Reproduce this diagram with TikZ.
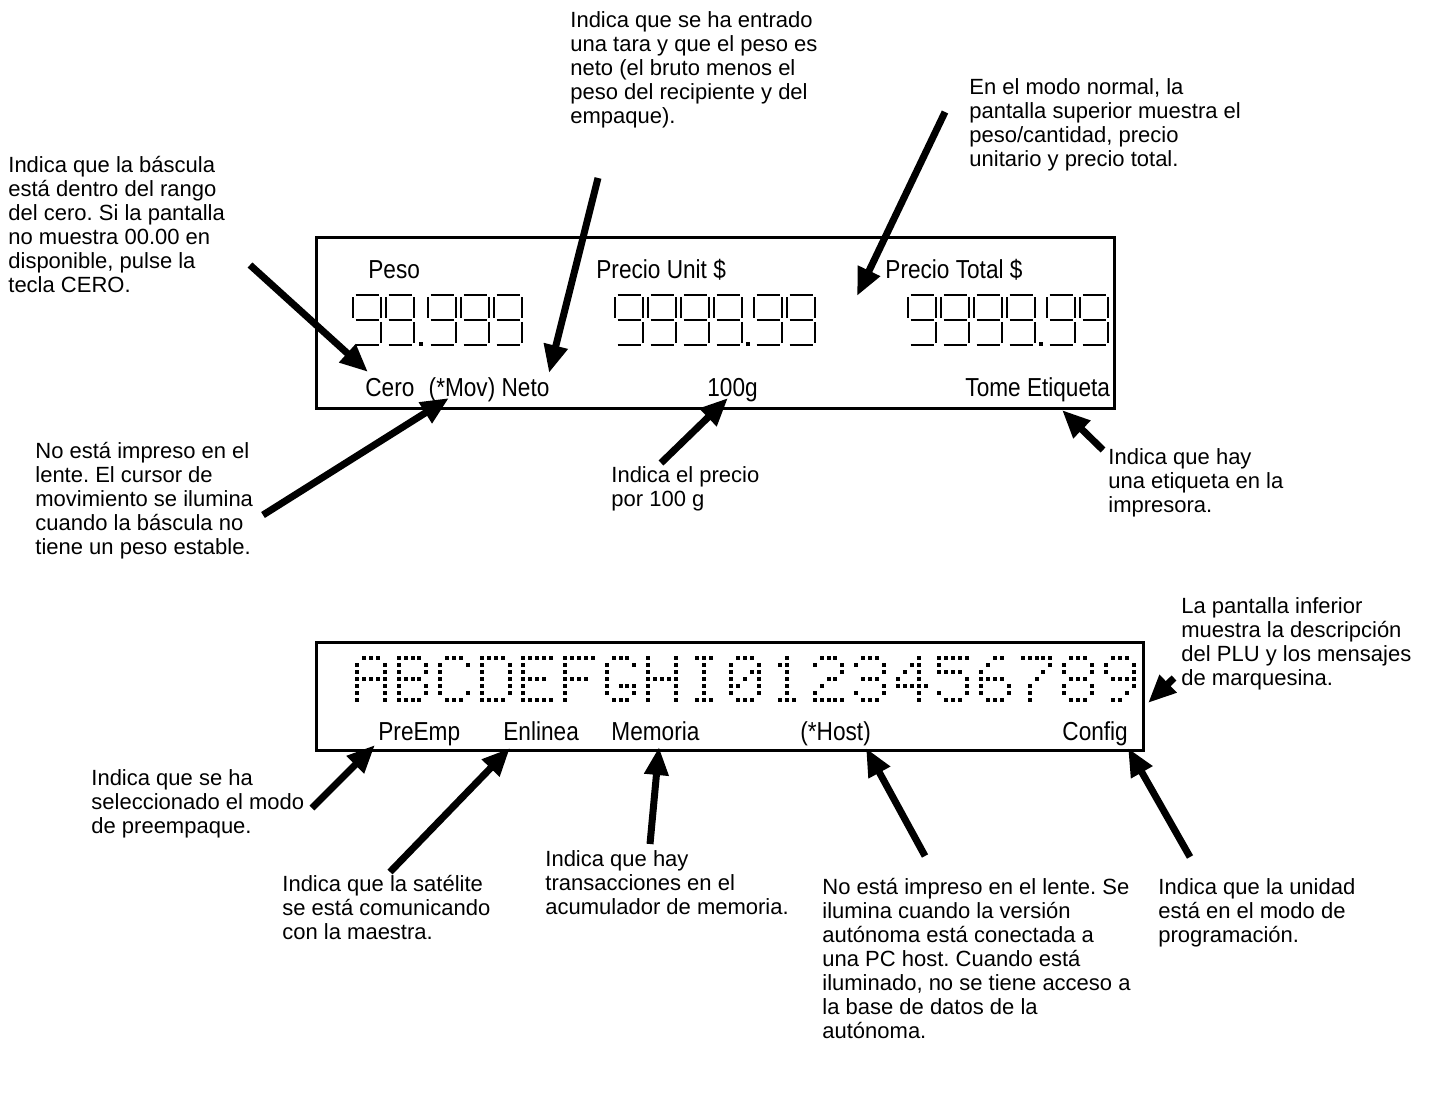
\documentclass[tikz,border=0pt]{standalone}
\usepackage{fontspec}
\setmainfont{Liberation Sans}
\newfontfamily\dispfamily{Liberation Sans}[FakeStretch=0.87]
\usetikzlibrary{arrows.meta}
\frenchspacing

\tikzset{
  note/.style={anchor=north west, inner sep=0pt, align=left, font=\frenchspacing\fontsize{11}{12}\selectfont},
  lbl/.style={anchor=base west, inner sep=0pt, font=\dispfamily\fontsize{13}{14}\selectfont},
  panel/.style={draw, line width=1.5pt},
  pointer/.style={line width=3.5pt, -{Triangle[length=14pt,width=11.5pt]}},
  seg/.style={line width=1.2pt},
}

% seven-segment "9" with top-left corner (#1,#2), width 28, height 50
\newcommand\ssnine[2]{%
  \draw[seg] (#1+2.5,#2) -- (#1+25.5,#2);
  \draw[seg] (#1+28,#2+2.5) -- (#1+28,#2+23);
  \draw[seg] (#1+28,#2+27) -- (#1+28,#2+47.5);
  \draw[seg] (#1+2.5,#2+50) -- (#1+25.5,#2+50);
  \draw[seg] (#1,#2+2.5) -- (#1,#2+23);
  \draw[seg] (#1+2.5,#2+25) -- (#1+25.5,#2+25);
}
\newcommand\ssdot[2]{\fill (#1-2,#2+47) rectangle ++(4,4);}

% 5x7 dot-matrix glyph number #1, rows #2
\newcommand\dmglyph[2]{%
  \foreach \dmr [count=\dmi from 0] in {#2} {%
    \foreach \dmc in \dmr {%
      \fill ({357+#1*41.6+\dmc*6.95-2},{658+\dmi*7-2}) rectangle ++(4,4);
    }%
  }%
}

\begin{document}
\begin{tikzpicture}[x=0.5pt,y=-0.5pt]
\useasboundingbox (0,0) rectangle (1454,1101);
\fill[white] (0,0) rectangle (1454,1101);

% ---------- upper display ----------
\draw[panel] (316,238) rectangle (1114,408);
\node[lbl] (peso) at (368,279) {Peso};
\node[lbl] (punit) at (596,279) {Precio Unit \$};
\node[lbl] (ptotal) at (885,279) {Precio Total \$};
\node[lbl] (cero) at (365,396) {Cero\hspace{0.55em}(*Mov) Neto};
\node[lbl] (cien) at (707,396) {100g};
\node[lbl] (tome) at (965,396) {Tome Etiqueta};

% 99.999
\ssnine{353}{295}\ssnine{386}{295}\ssdot{421}{295}
\ssnine{428}{295}\ssnine{461}{295}\ssnine{494}{295}
% 9999.99
\ssnine{615}{295}\ssnine{648}{295}\ssnine{681}{295}\ssnine{714}{295}
\ssdot{748}{295}\ssnine{754}{295}\ssnine{787}{295}
% 9999.99
\ssnine{908}{295}\ssnine{941}{295}\ssnine{974}{295}\ssnine{1007}{295}
\ssdot{1041}{295}\ssnine{1047}{295}\ssnine{1080}{295}

% ---------- lower display ----------
\draw[panel] (316,642) rectangle (1143,750);
\dmglyph{0}{{1,2,3},{0,4},{0,4},{0,1,2,3,4},{0,4},{0,4},{0,4}}
\dmglyph{1}{{0,1,2,3},{0,4},{0,4},{0,1,2,3},{0,4},{0,4},{0,1,2,3}}
\dmglyph{2}{{1,2,3},{0,4},{0},{0},{0},{0,4},{1,2,3}}
\dmglyph{3}{{0,1,2,3},{0,4},{0,4},{0,4},{0,4},{0,4},{0,1,2,3}}
\dmglyph{4}{{0,1,2,3,4},{0},{0},{0,1,2,3},{0},{0},{0,1,2,3,4}}
\dmglyph{5}{{0,1,2,3,4},{0},{0},{0,1,2,3},{0},{0},{0}}
\dmglyph{6}{{1,2,3},{0,4},{0},{0},{0,2,3,4},{0,4},{1,2,3}}
\dmglyph{7}{{0,4},{0,4},{0,4},{0,1,2,3,4},{0,4},{0,4},{0,4}}
\dmglyph{8}{{1,2,3},{2},{2},{2},{2},{2},{1,2,3}}
\dmglyph{9}{{1,2,3},{0,4},{0,3,4},{0,2,4},{0,1,4},{0,4},{1,2,3}}
\dmglyph{10}{{2},{1,2},{2},{2},{2},{2},{1,2,3}}
\dmglyph{11}{{1,2,3},{0,4},{4},{2,3},{1},{0},{0,1,2,3,4}}
\dmglyph{12}{{1,2,3},{0,4},{4},{1,2,3},{4},{0,4},{1,2,3}}
\dmglyph{13}{{3},{2,3},{1,3},{0,3},{0,1,2,3,4},{3},{3}}
\dmglyph{14}{{0,1,2,3,4},{0},{0,1,2,3},{4},{4},{0,4},{1,2,3}}
\dmglyph{15}{{2,3},{1},{0},{0,1,2,3},{0,4},{0,4},{1,2,3}}
\dmglyph{16}{{0,1,2,3,4},{4},{3},{2},{1},{1},{1}}
\dmglyph{17}{{1,2,3},{0,4},{0,4},{1,2,3},{0,4},{0,4},{1,2,3}}
\dmglyph{18}{{1,2,3},{0,4},{0,4},{1,2,3,4},{4},{3},{1,2}}

\node[lbl] (preemp) at (378,740) {PreEmp};
\node[lbl] (enlinea) at (503,740) {Enlinea};
\node[lbl] (memoria) at (611,740) {Memoria};
\node[lbl] (host) at (800,740) {(*Host)};
\node[lbl] (config) at (1062,740) {Config};

% ---------- annotations ----------
\node[note] (nNeto) at (570,10) {\strut Indica que se ha entrado\\una tara y que el peso es\\neto (el bruto menos el\\peso del recipiente y del\\empaque).};
\node[note] (nCero) at (8,155) {\strut Indica que la báscula\\está dentro del rango\\del cero. Si la pantalla\\no muestra 00.00 en\\disponible, pulse la\\tecla CERO.};
\node[note] (nSup) at (969,77) {\strut En el modo normal, la\\pantalla superior muestra el\\peso/cantidad, precio\\unitario y precio total.};
\node[note] (nMov) at (35,441) {\strut No está impreso en el\\lente. El cursor de\\movimiento se ilumina\\cuando la báscula no\\tiene un peso estable.};
\node[note] (nCien) at (611,465) {\strut Indica el precio\\por 100 g};
\node[note] (nTome) at (1108,447) {\strut Indica que hay\\una etiqueta en la\\impresora.};
\node[note] (nInf) at (1181,596) {\strut La pantalla inferior\\muestra la descripción\\del PLU y los mensajes\\de marquesina.};
\node[note] (nPre) at (91,768) {\strut Indica que se ha\\seleccionado el modo\\de preempaque.};
\node[note] (nEnl) at (282,874) {\strut Indica que la satélite\\se está comunicando\\con la maestra.};
\node[note] (nMem) at (545,849) {\strut Indica que hay\\transacciones en el\\acumulador de memoria.};
\node[note] (nHost) at (822,877) {\strut No está impreso en el lente. Se\\ilumina cuando la versión\\autónoma está conectada a\\una PC host. Cuando está\\iluminado, no se tiene acceso a\\la base de datos de la\\autónoma.};
\node[note] (nConf) at (1158,877) {\strut Indica que la unidad\\está en el modo de\\programación.};

% ---------- arrows ----------
\coordinate (t1) at (250,265);  \coordinate (h1) at (368,372);
\coordinate (t2) at (598,178);  \coordinate (h2) at (549,373);
\coordinate (t3) at (945,112);  \coordinate (h3) at (857,296);
\coordinate (t4) at (661,463);  \coordinate (h4) at (728,398);
\coordinate (t5) at (263,515);  \coordinate (h5) at (449,398);
\coordinate (t6) at (1103,450); \coordinate (h6) at (1062,410);
\coordinate (t7) at (1174,678); \coordinate (h7) at (1148,703);
\coordinate (t8) at (312,808);  \coordinate (h8) at (375,745);
\coordinate (t9) at (390,872);  \coordinate (h9) at (510,748);
\coordinate (t10) at (650,844); \coordinate (h10) at (659,747);
\coordinate (t11) at (925,856); \coordinate (h11) at (866,748);
\coordinate (t12) at (1190,857);\coordinate (h12) at (1128,748);
\foreach \k in {1,...,12} {\draw[pointer] (t\k) -- (h\k);}
\end{tikzpicture}
\end{document}
